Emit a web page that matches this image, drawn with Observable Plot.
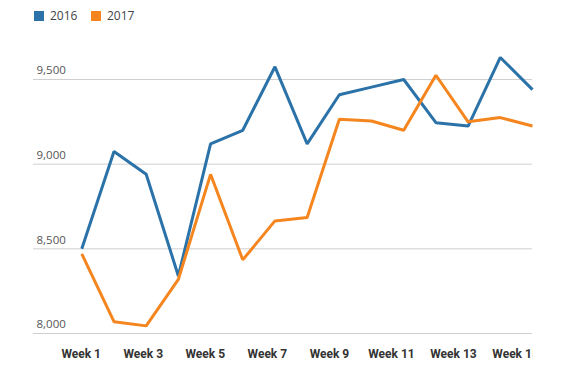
<!DOCTYPE html>
<html>
<head>
<meta charset="utf-8">
<script src="https://cdn.jsdelivr.net/npm/d3@7"></script>
<script src="https://cdn.jsdelivr.net/npm/@observablehq/plot@0.6"></script>
<style>
  html, body { margin: 0; padding: 0; background: #fff; }
  body { width: 580px; height: 380px; overflow: hidden; font-family: "Open Sans", "DejaVu Sans", sans-serif; }
  #legend { height: 28px; position: relative; font-size: 12px; color: #444; }
  .item { position: absolute; top: 7px; display: flex; align-items: center; }
  .sw { width: 10px; height: 10px; margin-right: 6px; }
</style>
</head>
<body>
<div id="legend"></div>
<div id="chart"></div>
<script>
const weeks = [1,2,3,4,5,6,7,8,9,10,11,12,13,14,15];
const series2016 = [8500,9075,8940,8340,9120,9200,9575,9120,9410,9455,9500,9245,9225,9630,9440];
const series2017 = [8470,8070,8045,8320,8940,8435,8665,8685,9265,9255,9200,9525,9250,9275,9225];
const seriesNames = ["2016","2017"];
const colors = ["#2a72a8","#f5861f"];
const yTicks = [8000,8500,9000,9500];
const xTicks = [1,3,5,7,9,11,13,15];
const xTickLabels = ["Week 1","Week 3","Week 5","Week 7","Week 9","Week 11","Week 13","Week 15"];

const data = [];
seriesNames.forEach((s, i) => {
  const vals = i === 0 ? series2016 : series2017;
  weeks.forEach((w, j) => data.push({series: s, week: w, value: vals[j]}));
});

const legend = document.getElementById("legend");
const lx = [34, 91];
seriesNames.forEach((s, i) => {
  const el = document.createElement("div");
  el.className = "item";
  el.style.left = lx[i] + "px";
  el.innerHTML = `<div class="sw" style="background:${colors[i]}"></div><span>${s}</span>`;
  legend.appendChild(el);
});

// In the original, category labels sit on a slightly tighter pitch than the points.
const labelPos = (w) => 0.982 + (w - 1) * 0.9637;

const chart = Plot.plot({
  width: 580,
  height: 352,
  marginLeft: 33,
  marginRight: 48,
  marginTop: 51,
  marginBottom: 47,
  style: {fontFamily: "'Open Sans', 'DejaVu Sans', sans-serif", background: "#fff"},
  x: {type: "linear", domain: [-0.5, 15], axis: null},
  y: {domain: [8000, 9500]},
  color: {domain: seriesNames, range: colors},
  marks: [
    Plot.ruleY(yTicks, {stroke: "#cfcfcf", strokeWidth: 1}),
    Plot.axisY({ticks: yTicks, tickSize: 0, tickPadding: 0, textAnchor: "start", dx: 3, dy: -9,
      tickFormat: d3.format(","), fontSize: 11.5, fill: "#555", label: null}),
    Plot.axisX({ticks: xTicks.map(labelPos), tickSize: 0, tickPadding: 0, dy: 16,
      tickFormat: (d, i) => xTickLabels[i], fontSize: 12, fontWeight: "bold", fill: "#333",
      fontFamily: "Roboto, 'Open Sans', sans-serif", label: null, className: "xlabels"}),
    Plot.line(data, {x: "week", y: "value", z: "series", stroke: "series", strokeWidth: 3,
      strokeLinejoin: "miter", strokeLinecap: "butt"})
  ]
});

// clip the x labels at the right edge of the plot area, as in the original
const svg = d3.select(chart);
const clipId = "xlabel-clip";
svg.append("defs").append("clipPath").attr("id", clipId)
  .append("rect").attr("x", 0).attr("y", 0).attr("width", 580 - 48).attr("height", 352);
svg.selectAll("g[aria-label='x-axis tick label']").attr("clip-path", `url(#${clipId})`);
document.getElementById("chart").appendChild(chart);
</script>
</body>
</html>
